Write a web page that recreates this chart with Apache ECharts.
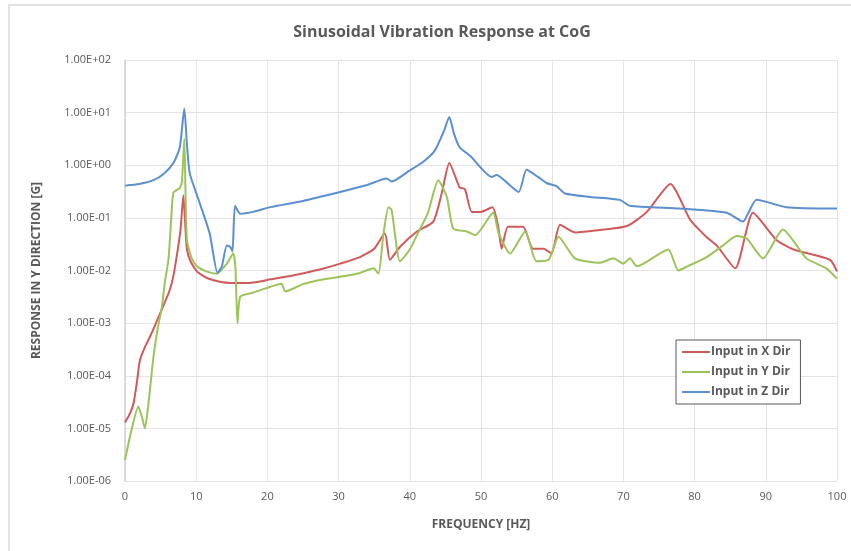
<!DOCTYPE html>
<html>
<head>
<meta charset="utf-8">
<script src="https://cdn.jsdelivr.net/npm/echarts@6/dist/echarts.min.js"></script>
<style>html,body{margin:0;padding:0;background:#fff}#c{width:851px;height:551px}</style>
</head>
<body>
<div id="c"></div>
<script>
// Frequencies (Hz) and responses (G)
const xDirFreq = [0,0.6,1.2,1.7,2.1,2.8,3.5,4.2,4.9,5.6,6.3,6.8,7.3,7.8,8.2,8.5,8.7,9.2,10,10.5,11.5,13.3,15,17,19,20.4,23,26,28,30.2,33,35,36.5,37.2,38.6,41,43.3,44.5,45.55,47,47.75,48.7,50,51.6,52.4,52.9,53.8,55.9,57.3,58.8,59.9,61.1,63.2,66.7,70.5,73.3,76.6,79.4,81.7,83.1,85.7,88.2,91.5,93.9,99,100];
const xDirResp = [1.3e-5,1.8e-5,3e-5,8e-5,2e-4,3.5e-4,5.5e-4,9e-4,1.5e-3,2.5e-3,4.3e-3,8e-3,0.02,0.06,0.27,0.06,0.025,0.015,0.01,0.0087,0.0072,0.0061,0.0058,0.0058,0.0062,0.0068,0.0078,0.0095,0.011,0.0135,0.018,0.026,0.051,0.016,0.028,0.055,0.085,0.3,1.1,0.38,0.35,0.13,0.13,0.16,0.07,0.026,0.068,0.068,0.026,0.026,0.021,0.074,0.053,0.059,0.07,0.13,0.44,0.091,0.043,0.03,0.011,0.125,0.038,0.025,0.016,0.0096];

const yDirFreq = [0,0.8,1.87,2.4,2.8,3.3,4,4.6,5.15,5.6,6.1,6.5,6.8,7.7,8.0,8.33,8.5,8.7,9.3,10.1,11.5,12.9,14.3,15.2,15.5,15.8,16.2,18,20.4,22,22.5,25,27.4,30,33,34.9,35.6,36.3,37,37.45,38,38.6,40,41,42.5,44,45.2,46.1,48,49.2,51.7,52.5,54.1,56.2,57.8,59.5,60.9,63.2,66.7,68.6,70,70.9,71.9,76.3,77.7,79,81.7,84,85.9,87.3,89.6,92.4,95.7,98.5,100];
const yDirResp = [2.5e-6,8e-6,2.6e-5,1.6e-5,1e-5,3e-5,2.3e-4,8e-4,1.9e-3,6e-3,0.016,0.1,0.3,0.37,0.5,3.2,0.3,0.038,0.018,0.012,0.0095,0.0087,0.0135,0.021,0.012,0.001,0.0032,0.0038,0.0049,0.0056,0.004,0.0055,0.0066,0.0075,0.009,0.011,0.0087,0.05,0.16,0.14,0.04,0.015,0.025,0.047,0.12,0.52,0.25,0.063,0.055,0.047,0.125,0.05,0.021,0.055,0.015,0.016,0.044,0.017,0.014,0.017,0.0135,0.017,0.012,0.025,0.01,0.012,0.018,0.03,0.045,0.041,0.017,0.06,0.017,0.011,0.007];

const zDirFreq = [0,2,4,5.5,6.8,7.7,8.33,8.7,9.1,10.5,11.9,13.0,13.6,14.3,14.8,15.1,15.45,16.2,18,20.4,25,30.2,34,36.75,37.45,40,41.9,43.5,44.8,45.55,46.2,47,48.5,51.5,52.2,53.4,55.3,56.4,58,59.2,60.6,61.8,65.3,69.5,70.9,77.9,84.5,86.8,87.5,88.7,92.9,100];
const zDirResp = [0.41,0.44,0.52,0.7,1.1,2.2,12,2.5,0.7,0.19,0.05,0.009,0.012,0.03,0.028,0.023,0.17,0.12,0.13,0.16,0.21,0.31,0.42,0.56,0.49,0.8,1.17,1.9,4.5,8.3,4,2.2,1.5,0.6,0.65,0.5,0.31,0.82,0.6,0.46,0.4,0.29,0.25,0.22,0.17,0.15,0.125,0.085,0.12,0.22,0.16,0.15];

const seriesNames = ['Input in X Dir','Input in Y Dir','Input in Z Dir'];
const xTicks = {min:0, max:100, interval:10};
const yTicks = {min:1e-6, max:100};

function pairs(fx, fy){ return fx.map((f,i)=>[f, fy[i]]); }
function sci(v){
  const e = Math.round(Math.log10(v));
  const s = e < 0 ? '-' : '+';
  const a = Math.abs(e);
  return '1.00E' + s + (a < 10 ? '0' + a : a);
}
const txt = '#595959';
const chart = echarts.init(document.getElementById('c'));
chart.setOption({
  animation:false,
  backgroundColor:'#fff',
  graphic:[{type:'rect', shape:{x:9,y:5,width:860,height:560}, style:{fill:'none', stroke:'#d9d9d9', lineWidth:1.5}, silent:true}],
  title:{text:'Sinusoidal Vibration Response at CoG', left:437, top:19, textAlign:'center',
    textStyle:{fontFamily:'Open Sans', fontSize:16, fontWeight:'bold', color:txt}},
  grid:{left:125, right:14, top:60, bottom:70, containLabel:false},
  xAxis:{type:'value', min:xTicks.min, max:xTicks.max, interval:xTicks.interval,
    name:'FREQUENCY [HZ]', nameLocation:'middle', nameGap:38,
    nameTextStyle:{fontFamily:'Open Sans', fontSize:12, fontWeight:'bold', color:txt},
    axisLine:{show:false}, axisTick:{show:false},
    axisLabel:{fontFamily:'Open Sans', fontSize:11, color:txt, margin:10},
    splitLine:{show:true, lineStyle:{color:'#e3e3e3', width:1}}},
  yAxis:{type:'log', logBase:10, min:yTicks.min, max:yTicks.max, splitNumber:8,
    name:'RESPONSE IN Y DIRECTION [G]', nameLocation:'middle', nameGap:82, nameRotate:90,
    nameTextStyle:{fontFamily:'Open Sans', fontSize:12, fontWeight:'bold', color:txt},
    axisLine:{show:true, lineStyle:{color:'#d0d0d0', width:1.5}}, axisTick:{show:false},
    axisLabel:{fontFamily:'Open Sans', fontSize:11, color:txt, margin:14, formatter:sci},
    splitLine:{show:true, lineStyle:{color:'#e3e3e3', width:1}}},
  legend:{orient:'vertical', left:676, top:340, data:seriesNames,
    icon:'rect', itemWidth:28, itemHeight:2, itemGap:8,
    borderColor:'#595959', borderWidth:1, padding:[6,10,6,6], backgroundColor:'#fff',
    textStyle:{fontFamily:'Open Sans', fontSize:12, fontWeight:'bold', color:txt, padding:[0,0,0,-4]}},
  series:[
    {name:seriesNames[0], type:'line', data:pairs(xDirFreq,xDirResp), showSymbol:false, smooth:0.2,
      lineStyle:{color:'#d05a5a', width:2}, itemStyle:{color:'#d05a5a'}},
    {name:seriesNames[1], type:'line', data:pairs(yDirFreq,yDirResp), showSymbol:false, smooth:0.2,
      lineStyle:{color:'#9cc45a', width:2}, itemStyle:{color:'#9cc45a'}},
    {name:seriesNames[2], type:'line', data:pairs(zDirFreq,zDirResp), showSymbol:false, smooth:0.2,
      lineStyle:{color:'#5b8fd0', width:2}, itemStyle:{color:'#5b8fd0'}}
  ]
});
</script>
</body>
</html>
